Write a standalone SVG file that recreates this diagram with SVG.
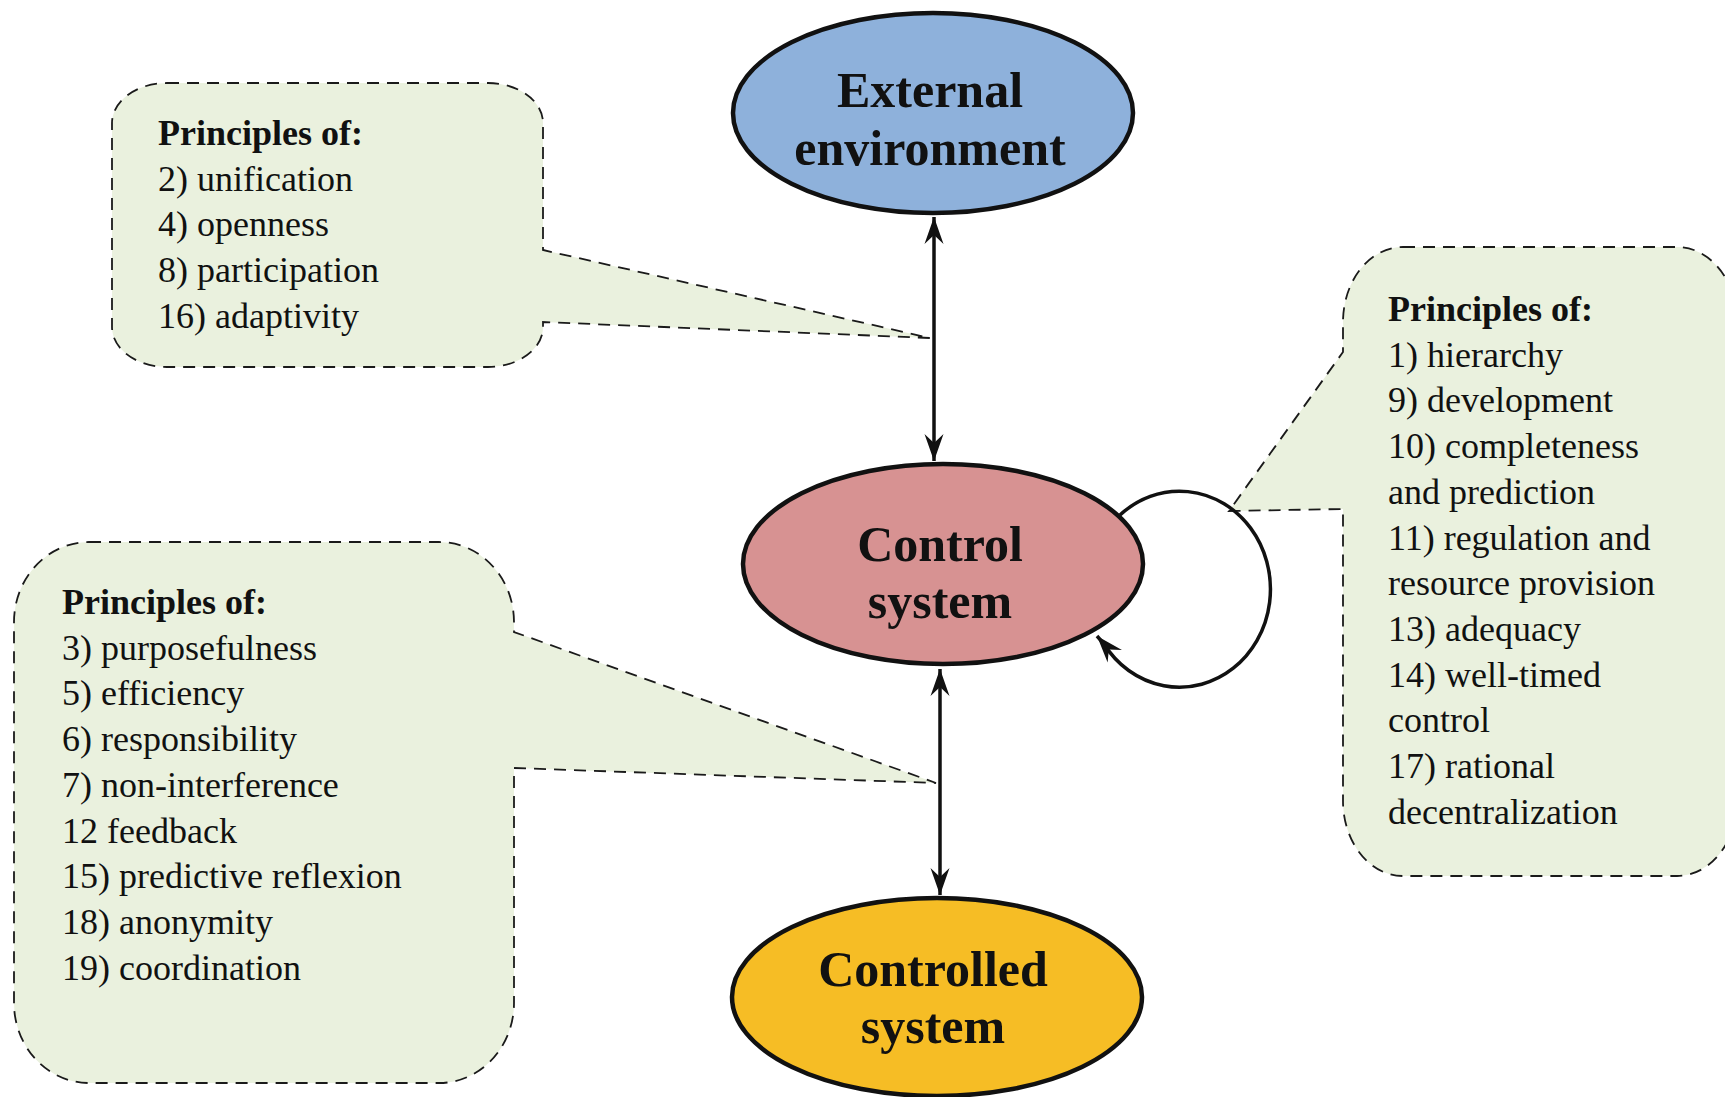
<svg xmlns="http://www.w3.org/2000/svg" width="1725" height="1097" viewBox="0 0 1725 1097">
<style>
.callout{fill:#EAF1DE;stroke:#1a1a1a;stroke-width:1.8;stroke-dasharray:12 8}
.node{stroke:#111;stroke-width:4.5}
.lbl{font-family:"Liberation Serif","Times New Roman",serif;font-weight:bold;font-size:50px;fill:#111;text-anchor:middle}
.txt{font-family:"Liberation Serif","Times New Roman",serif;font-size:36px;fill:#111}
.hd{font-weight:bold}
.conn{fill:none;stroke:#111;stroke-width:3.5}
</style>
<defs>
<marker id="ah" markerUnits="userSpaceOnUse" markerWidth="32" markerHeight="24" viewBox="-28 -12 30 24" refX="0" refY="0" orient="auto-start-reverse">
<path d="M0,0 L-27,-9.5 L-18,0 L-27,9.5 Z" fill="#111"/>
</marker>
</defs>
<rect width="1725" height="1097" fill="#fff"/>

<g id="callout-top-left">
<path class="callout" d="M167 83 H488 A55 40 0 0 1 543 123 V250 L930 338 L543 322 V327 A55 40 0 0 1 488 367 H167 A55 40 0 0 1 112 327 V123 A55 40 0 0 1 167 83 Z"/>
<text class="txt" x="158"><tspan class="hd" y="145">Principles of:</tspan><tspan x="158" y="190.7">2) unification</tspan><tspan x="158" y="236.4">4) openness</tspan><tspan x="158" y="282.1">8) participation</tspan><tspan x="158" y="327.8">16) adaptivity</tspan></text>
</g>

<g id="callout-right">
<path class="callout" d="M1403 247 H1677 A60 75 0 0 1 1737 322 V801 A60 75 0 0 1 1677 876 H1403 A60 75 0 0 1 1343 801 V509 L1229 511 L1343 352 V322 A60 75 0 0 1 1403 247 Z"/>
<text class="txt" x="1388"><tspan class="hd" y="321">Principles of:</tspan><tspan x="1388" y="366.7">1) hierarchy</tspan><tspan x="1388" y="412.4">9) development</tspan><tspan x="1388" y="458.1">10) completeness</tspan><tspan x="1388" y="503.8">and prediction</tspan><tspan x="1388" y="549.5">11) regulation and</tspan><tspan x="1388" y="595.2">resource provision</tspan><tspan x="1388" y="640.9">13) adequacy</tspan><tspan x="1388" y="686.6">14) well-timed</tspan><tspan x="1388" y="732.3">control</tspan><tspan x="1388" y="778">17) rational</tspan><tspan x="1388" y="823.7">decentralization</tspan></text>
</g>

<g id="callout-bottom-left">
<path class="callout" d="M89 542 H439 A75 80 0 0 1 514 622 V632 L936 783 L514 768 V1003 A75 80 0 0 1 439 1083 H89 A75 80 0 0 1 14 1003 V622 A75 80 0 0 1 89 542 Z"/>
<text class="txt" x="62"><tspan class="hd" y="614">Principles of:</tspan><tspan x="62" y="659.7">3) purposefulness</tspan><tspan x="62" y="705.4">5) efficiency</tspan><tspan x="62" y="751.1">6) responsibility</tspan><tspan x="62" y="796.8">7) non-interference</tspan><tspan x="62" y="842.5">12 feedback</tspan><tspan x="62" y="888.2">15) predictive reflexion</tspan><tspan x="62" y="933.9">18) anonymity</tspan><tspan x="62" y="979.6">19) coordination</tspan></text>
</g>

<g id="connectors">
<path class="conn" d="M934 217 V461" marker-start="url(#ah)" marker-end="url(#ah)"/>
<path class="conn" d="M940 669 V895" marker-start="url(#ah)" marker-end="url(#ah)"/>
<path class="conn" d="M1120 515 A91 98 0 1 1 1104 644 L1097 636" marker-end="url(#ah)"/>
</g>

<g id="node-external">
<ellipse class="node" cx="933" cy="113" rx="200" ry="100" fill="#8EB1DB"/>
<text class="lbl" x="930" y="107">External</text>
<text class="lbl" x="930" y="165">environment</text>
</g>

<g id="node-control">
<ellipse class="node" cx="943" cy="564" rx="200" ry="100" fill="#D79292"/>
<text class="lbl" x="940" y="561">Control</text>
<text class="lbl" x="940" y="618">system</text>
</g>

<g id="node-controlled">
<ellipse class="node" cx="937" cy="997" rx="205" ry="99" fill="#F6BD25"/>
<text class="lbl" x="933" y="986">Controlled</text>
<text class="lbl" x="933" y="1043">system</text>
</g>
</svg>
